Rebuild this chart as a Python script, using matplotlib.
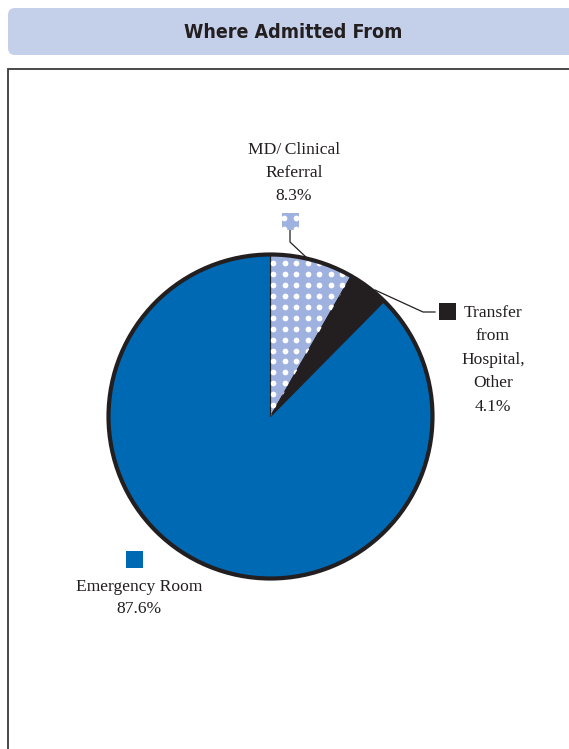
import numpy as np
import matplotlib
matplotlib.use("Agg")
import matplotlib.pyplot as plt
from matplotlib.patches import FancyBboxPatch, Rectangle, Circle

# ---- data ----
title = "Where Admitted From"
categories = ["MD/\u2009Clinical\nReferral", "Transfer\nfrom\nHospital,\nOther", "Emergency Room"]
values = [8.3, 4.1, 87.6]
colors = ["#9fb2df", "#231f20", "#0069b4"]

W, H = 569, 749
fig = plt.figure(figsize=(W / 100, H / 100), dpi=100)
ax = fig.add_axes([0, 0, 1, 1])

def Y(y):
    return H - y

txt_col = "#231f20"
serif = ["Liberation Serif", "DejaVu Serif"]

# title bar
bar = FancyBboxPatch((8, Y(55)), 600, 47, boxstyle="round,pad=0,rounding_size=7",
                     facecolor="#c4cfea", edgecolor="none")
ax.add_patch(bar)
ax.text(293, Y(32), title, ha="center", va="center", fontsize=14, fontweight="bold",
        fontstretch="condensed", color=txt_col,
        family=["DejaVu Sans", "Liberation Sans"])

# frame box
ax.add_patch(Rectangle((8.5, Y(800)), 700, 800 - 68.5, facecolor="none",
                       edgecolor="#3a3a3a", linewidth=1.3))

# pie
cx, cy, R = 270.5, Y(416.5), 162
wedges, _ = ax.pie(values, colors=colors, startangle=90, counterclock=False,
                   center=(cx, cy), radius=R, frame=True,
                   wedgeprops=dict(linewidth=0.8, edgecolor=txt_col))

# white dot pattern on MD wedge
sx, sy = 11.5, 10.9
gx = np.arange(273.3 - sx * 2, 460, sx)
gy = np.arange(263.3 - sy * 2, 430, sy)
GX, GY = np.meshgrid(gx, gy)
dots = ax.scatter(GX.ravel(), Y(GY.ravel()), s=17, color="white", linewidths=0, zorder=3)
dots.set_clip_path(wedges[0])

# outline
ax.add_patch(Circle((cx, cy), R, facecolor="none", edgecolor=txt_col, linewidth=3.0, zorder=4))

# legend markers
msz = 17
mk_md = Rectangle((290.5 - msz / 2, Y(221) - msz / 2), msz, msz, facecolor=colors[0], edgecolor="none", zorder=3)
ax.add_patch(mk_md)
mgx = np.arange(284.3 - sx, 310, sx)
mgy = np.arange(218 - sy, 240, sy)
MX, MY = np.meshgrid(mgx, mgy)
mdots = ax.scatter(MX.ravel(), Y(MY.ravel()), s=17, color="white", linewidths=0, zorder=4)
mdots.set_clip_path(mk_md)
ax.add_patch(Rectangle((448 - msz / 2, Y(311) - msz / 2), msz, msz, facecolor=colors[1], edgecolor="none"))
ax.add_patch(Rectangle((134.5 - msz / 2, Y(559.5) - msz / 2), msz, msz, facecolor=colors[2], edgecolor="none"))

# leader lines
ax.plot([290, 290, 307], [Y(230), Y(242), Y(258)], color=txt_col, linewidth=0.9, zorder=2)
ax.plot([375, 423, 435], [Y(290), Y(312), Y(312)], color=txt_col, linewidth=0.9, zorder=2)

fs = 12.6
ls = 1.58
ax.text(294, Y(142), categories[0] + "\n" + f"{values[0]}%", ha="center", va="top",
        fontsize=fs, family=serif, color=txt_col, linespacing=ls)
ax.text(493, Y(305), categories[1] + "\n" + f"{values[1]}%", ha="center", va="top",
        fontsize=fs, family=serif, color=txt_col, linespacing=1.62)
ax.text(139, Y(579), categories[2] + "\n" + f"{values[2]}%", ha="center", va="top",
        fontsize=fs, family=serif, color=txt_col, linespacing=1.5)

ax.set_xlim(0, W)
ax.set_ylim(0, H)
ax.set_aspect("auto")
ax.axis("off")

fig.savefig("out.png", dpi=100, facecolor="white")
